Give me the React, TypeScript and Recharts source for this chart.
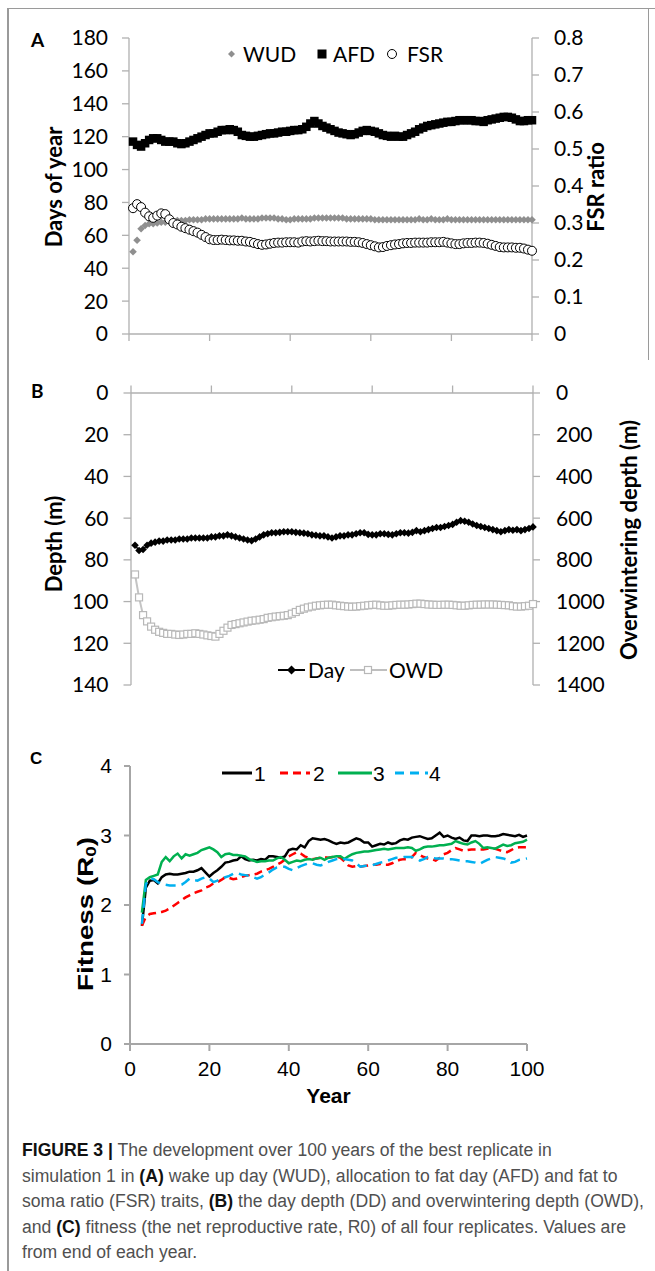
import React from 'react';
import { ComposedChart, Line, XAxis, YAxis, Legend } from 'recharts';

// ---------- Panel A data (years 1..100) ----------
const YEARS_AB = Array.from({ length: 100 }, (_, i) => i + 1);
const WUD = [50, 57, 64, 66, 67, 67, 67.5, 68, 68, 68.5,
  68.5, 69, 69, 69, 69.5, 69.5, 69.5, 69.5, 70, 70,
  70, 70, 70, 70, 70, 70, 70, 70.5, 70, 70,
  70, 70, 70.5, 70.5, 70.5, 70.5, 70, 70, 69.5, 69.5,
  70, 70, 70, 70, 70, 70.5, 70.5, 70.5, 70.5, 70.5,
  70.5, 70.5, 70.5, 70, 70, 70, 70, 70, 70, 70,
  69.5, 69.5, 69.5, 69.5, 69.5, 69.5, 69.5, 69.5, 69.5, 69.5,
  69.5, 70, 69.5, 69.5, 70, 69.5, 69.5, 69.5, 70, 69.5,
  69.5, 69.5, 69.5, 69.5, 69.5, 69.5, 69.5, 69.5, 69.5, 69.5,
  69.5, 69.5, 69.5, 69.5, 69.5, 69.5, 69.5, 69.5, 69.5, 69.5];
const AFD = [117, 115, 114, 116, 118, 119, 119, 118, 117, 117,
  117, 116, 115.5, 116, 117, 118, 119, 120, 121, 122,
  122, 123, 124, 124, 124.5, 124, 123, 121, 120.5, 120,
  120, 120.5, 121, 121.5, 122, 122, 122.5, 123, 123, 123.5,
  124, 124, 124.5, 126, 128, 129.5, 128, 126.5, 125.5, 124.5,
  123.5, 122.5, 122, 121.5, 121, 121.5, 122.5, 123.5, 124, 123.5,
  123, 122, 121, 120.5, 120, 120.5, 120, 120, 121, 122,
  123, 124.5, 125.5, 126.5, 127, 127.5, 128, 128.5, 129, 129,
  129.5, 130, 130, 130, 130, 129.5, 129.5, 129, 130, 130.5,
  131, 131.5, 132, 132, 131.5, 130.5, 129.5, 129.5, 130, 130];
const FSR = [0.340, 0.351, 0.343, 0.328, 0.318, 0.314, 0.320, 0.326, 0.324, 0.310,
  0.300, 0.296, 0.290, 0.286, 0.282, 0.278, 0.274, 0.268, 0.262, 0.256,
  0.254, 0.254, 0.255, 0.254, 0.253, 0.253, 0.252, 0.252, 0.250, 0.249,
  0.246, 0.243, 0.241, 0.242, 0.244, 0.246, 0.247, 0.247, 0.248, 0.248,
  0.248, 0.247, 0.250, 0.251, 0.250, 0.251, 0.252, 0.251, 0.251, 0.250,
  0.250, 0.250, 0.250, 0.250, 0.249, 0.249, 0.248, 0.246, 0.243, 0.240,
  0.237, 0.234, 0.235, 0.238, 0.240, 0.242, 0.243, 0.245, 0.246, 0.246,
  0.247, 0.247, 0.247, 0.247, 0.248, 0.248, 0.248, 0.249, 0.247, 0.245,
  0.243, 0.243, 0.245, 0.246, 0.246, 0.247, 0.247, 0.246, 0.244, 0.241,
  0.238, 0.235, 0.234, 0.234, 0.234, 0.233, 0.233, 0.231, 0.228, 0.225];

// ---------- Panel B data (years 1..100) ----------
const DAY_DEPTH = [73, 75.5, 75, 73, 72, 71.5, 71, 71, 70.5, 70.5,
  70.5, 70, 70, 70, 69.5, 69.5, 69.5, 69.5, 69.5, 69,
  69, 68.5, 68.5, 68, 68.5, 69, 69.5, 70, 70.5, 70.8,
  70, 69, 68, 67.5, 67, 67, 66.8, 66.5, 66.5, 66.5,
  66.8, 67, 67.2, 67.5, 68, 68.2, 68.5, 68.5, 69, 69.5,
  69, 68.5, 68.5, 68, 68, 67.5, 67, 67, 67.8, 68,
  68, 67.5, 67.5, 67.8, 68, 67.5, 67, 67, 67.2, 66.8,
  66, 66.5, 66, 65.5, 65, 64.5, 64.5, 64, 63.5, 63,
  62, 61.2, 61.5, 62, 62.8, 63.5, 64, 64.5, 65, 65.5,
  66, 66.5, 66, 65.5, 65.8, 65.5, 66, 65.5, 65, 64.2];
const OWD = [870, 980, 1065, 1095, 1120, 1135, 1145, 1150, 1155, 1155,
  1158, 1160, 1158, 1155, 1155, 1152, 1155, 1158, 1162, 1165,
  1168, 1155, 1140, 1125, 1112, 1108, 1104, 1100, 1096, 1092,
  1090, 1087, 1084, 1078, 1075, 1072, 1070, 1068, 1065, 1058,
  1050, 1040, 1034, 1028, 1024, 1020, 1018, 1016, 1015, 1015,
  1018, 1020, 1022, 1024, 1025, 1024, 1022, 1020, 1018, 1016,
  1015, 1018, 1020, 1020, 1018, 1016, 1015, 1015, 1014, 1012,
  1010, 1010, 1012, 1014, 1015, 1016, 1016, 1015, 1015, 1016,
  1018, 1020, 1020, 1018, 1016, 1015, 1015, 1014, 1014, 1014,
  1015, 1016, 1017, 1018, 1022, 1024, 1024, 1022, 1020, 1012];

// ---------- Panel C data (years 3..100) ----------
const YEARS_C = Array.from({ length: 98 }, (_, i) => i + 3);
const REP1 = [1.70, 2.25, 2.35, 2.36, 2.31, 2.40, 2.44, 2.45,
  2.44, 2.44, 2.45, 2.46, 2.48, 2.48, 2.50, 2.53, 2.47, 2.41,
  2.46, 2.50, 2.55, 2.61, 2.62, 2.64, 2.65, 2.70, 2.66, 2.64,
  2.65, 2.64, 2.66, 2.65, 2.70, 2.70, 2.69, 2.68, 2.70, 2.79,
  2.81, 2.80, 2.86, 2.83, 2.92, 2.96, 2.95, 2.94, 2.95, 2.93,
  2.90, 2.88, 2.90, 2.89, 2.90, 2.93, 2.96, 2.94, 2.90, 2.90,
  2.84, 2.86, 2.88, 2.87, 2.90, 2.88, 2.89, 2.93, 2.95, 2.94,
  2.97, 2.98, 2.99, 2.97, 2.95, 2.96, 3.00, 3.04, 2.98, 3.00,
  2.97, 2.95, 2.97, 2.93, 2.92, 3.00, 3.00, 2.99, 3.00, 3.00,
  2.99, 2.99, 3.00, 3.02, 3.01, 3.00, 2.99, 3.01, 2.98, 3.00];
const REP2 = [1.70, 1.83, 1.87, 1.88, 1.89, 1.90, 1.92, 1.95,
  1.99, 2.03, 2.07, 2.11, 2.14, 2.17, 2.19, 2.21, 2.25, 2.27,
  2.31, 2.33, 2.36, 2.40, 2.39, 2.37, 2.38, 2.40, 2.42, 2.43,
  2.44, 2.45, 2.48, 2.50, 2.52, 2.55, 2.58, 2.61, 2.65, 2.70,
  2.73, 2.76, 2.74, 2.70, 2.68, 2.66, 2.67, 2.68, 2.69, 2.68,
  2.69, 2.70, 2.68, 2.63, 2.57, 2.55, 2.56, 2.55, 2.56, 2.57,
  2.58, 2.58, 2.59, 2.58, 2.58, 2.60, 2.63, 2.65, 2.66, 2.66,
  2.69, 2.75, 2.72, 2.69, 2.67, 2.66, 2.64, 2.68, 2.73, 2.75,
  2.79, 2.82, 2.80, 2.78, 2.79, 2.80, 2.80, 2.80, 2.80, 2.81,
  2.81, 2.81, 2.79, 2.77, 2.76, 2.79, 2.82, 2.83, 2.83, 2.83];
const REP3 = [1.89, 2.36, 2.40, 2.42, 2.44, 2.62, 2.69, 2.63,
  2.70, 2.74, 2.67, 2.73, 2.71, 2.73, 2.75, 2.79, 2.81, 2.83,
  2.80, 2.76, 2.69, 2.73, 2.74, 2.72, 2.72, 2.71, 2.70, 2.66,
  2.64, 2.62, 2.63, 2.63, 2.64, 2.64, 2.67, 2.69, 2.65, 2.60,
  2.62, 2.64, 2.63, 2.65, 2.66, 2.65, 2.67, 2.68, 2.65, 2.68,
  2.69, 2.70, 2.70, 2.66, 2.70, 2.73, 2.75, 2.76, 2.77, 2.77,
  2.78, 2.79, 2.80, 2.81, 2.80, 2.81, 2.82, 2.82, 2.82, 2.83,
  2.82, 2.78, 2.80, 2.83, 2.84, 2.84, 2.85, 2.86, 2.86, 2.87,
  2.88, 2.92, 2.90, 2.88, 2.87, 2.90, 2.92, 2.88, 2.82, 2.83,
  2.82, 2.81, 2.84, 2.87, 2.85, 2.86, 2.89, 2.90, 2.91, 2.94];
const REP4 = [1.73, 2.30, 2.38, 2.37, 2.33, 2.30, 2.29, 2.28,
  2.28, 2.28, 2.29, 2.33, 2.38, 2.36, 2.35, 2.38, 2.40, 2.38,
  2.33, 2.35, 2.38, 2.40, 2.42, 2.45, 2.46, 2.44, 2.43, 2.42,
  2.40, 2.38, 2.40, 2.44, 2.47, 2.51, 2.54, 2.55, 2.55, 2.52,
  2.50, 2.53, 2.56, 2.58, 2.60, 2.60, 2.58, 2.57, 2.59, 2.62,
  2.64, 2.66, 2.67, 2.66, 2.65, 2.64, 2.60, 2.55, 2.56, 2.57,
  2.57, 2.59, 2.61, 2.62, 2.64, 2.66, 2.68, 2.68, 2.69, 2.69,
  2.69, 2.67, 2.64, 2.66, 2.69, 2.68, 2.67, 2.67, 2.67, 2.66,
  2.66, 2.65, 2.64, 2.63, 2.63, 2.62, 2.61, 2.59, 2.62, 2.65,
  2.67, 2.69, 2.68, 2.67, 2.65, 2.61, 2.62, 2.65, 2.66, 2.67];

// ---------- Axis ticks ----------
const X_TICKS = [0, 20, 40, 60, 80, 100];
const DAYS_TICKS = [0, 20, 40, 60, 80, 100, 120, 140, 160, 180];
const FSR_TICKS = [0, 0.1, 0.2, 0.3, 0.4, 0.5, 0.6, 0.7, 0.8];
const DEPTH_TICKS = [0, 20, 40, 60, 80, 100, 120, 140];
const OWD_TICKS = [0, 200, 400, 600, 800, 1000, 1200, 1400];
const FIT_TICKS = [0, 1, 2, 3, 4];

const dataA = YEARS_AB.map((year, i) => ({ year, wud: WUD[i], afd: AFD[i], fsr: FSR[i] }));
const dataB = YEARS_AB.map((year, i) => ({ year, day: DAY_DEPTH[i], owd: OWD[i] }));
const dataC = YEARS_C.map((year, i) => ({ year, r1: REP1[i], r2: REP2[i], r3: REP3[i], r4: REP4[i] }));

// ---------- styles ----------
const CAL = 'Lato, "Open Sans", sans-serif';
const ARIAL = '"Liberation Sans", Arial, sans-serif';
const AXIS_AB = { stroke: '#b0b0b0', strokeWidth: 1.3 };
const AXIS_C = { stroke: '#a6a6a6', strokeWidth: 2 };
const TICK_AB = { fontFamily: CAL, fontSize: 21, fill: '#000' };
const TICK_C = { fontFamily: ARIAL, fontSize: 21, fill: '#000' };
const TITLE_AB: React.CSSProperties = { fontFamily: CAL, fontSize: 22, fontWeight: 700, fill: '#000' };

// ---------- marker renderers ----------
const diamondDot = (fill: string, h: number) => (p: any) => {
  if (p.cx == null || p.cy == null) return <g key={`e${p.index}`} />;
  const { cx, cy } = p;
  return <path key={`d${p.index}`} d={`M${cx},${cy - h}L${cx + h},${cy}L${cx},${cy + h}L${cx - h},${cy}Z`} fill={fill} />;
};
const squareDot = (fill: string, stroke: string, s: number, sw: number) => (p: any) => {
  if (p.cx == null || p.cy == null) return <g key={`e${p.index}`} />;
  return <rect key={`s${p.index}`} x={p.cx - s / 2} y={p.cy - s / 2} width={s} height={s} fill={fill} stroke={stroke} strokeWidth={sw} />;
};
const circleDot = (p: any) => {
  if (p.cx == null || p.cy == null) return <g key={`e${p.index}`} />;
  return <circle key={`c${p.index}`} cx={p.cx} cy={p.cy} r={4.5} fill="#fff" stroke="#000" strokeWidth={1} />;
};

const rotTitle = (text: React.ReactNode, x: number, y: number, style: React.CSSProperties, extra: any = {}) => () => (
  <text x={x} y={y} transform={`rotate(-90 ${x} ${y})`} textAnchor="middle" dominantBaseline="central" style={style} {...extra}>{text}</text>
);

const fmtFsr = (v: number) => (v === 0 ? '0' : v.toFixed(1));
const empty = () => '';

// ---------- legends ----------
const LEG_AB: React.CSSProperties = { fontFamily: CAL, fontSize: 21, fill: '#000' };
const LEG_C: React.CSSProperties = { fontFamily: ARIAL, fontSize: 21, fill: '#000' };

const LegendA = () => (
  <svg width={655} height={30} style={{ display: 'block' }}>
    <path d="M231.5,11.5L235,15L231.5,18.5L228,15Z" fill="#8f8f8f" />
    <text x={243} y={22.5} style={LEG_AB}>WUD</text>
    <rect x={317.5} y={10.5} width={9} height={9} fill="#000" />
    <text x={333} y={22.5} style={LEG_AB}>AFD</text>
    <circle cx={392} cy={15} r={4.5} fill="#fff" stroke="#000" strokeWidth={1} />
    <text x={407} y={22.5} style={LEG_AB}>FSR</text>
  </svg>
);
const LegendB = () => (
  <svg width={655} height={30} style={{ display: 'block' }}>
    <line x1={278} y1={15} x2={305} y2={15} stroke="#000" strokeWidth={2} />
    <path d="M291.5,10.5L296,15L291.5,19.5L287,15Z" fill="#000" />
    <text x={308} y={22.5} style={LEG_AB}>Day</text>
    <line x1={350} y1={15} x2={387} y2={15} stroke="#bfbfbf" strokeWidth={2} />
    <rect x={364.5} y={11.5} width={7} height={7} fill="#fff" stroke="#b8b8b8" strokeWidth={1.2} />
    <text x={389} y={22.5} style={LEG_AB}>OWD</text>
  </svg>
);
const LegendC = () => (
  <svg width={655} height={30} style={{ display: 'block' }}>
    <line x1={222} y1={15} x2={252} y2={15} stroke="#000" strokeWidth={3} />
    <text x={254} y={22.5} style={LEG_C}>1</text>
    <line x1={280} y1={15} x2={310} y2={15} stroke="#ff0000" strokeWidth={3} strokeDasharray="8 5" />
    <text x={313} y={22.5} style={LEG_C}>2</text>
    <line x1={338} y1={15} x2={372} y2={15} stroke="#00b050" strokeWidth={3} />
    <text x={373} y={22.5} style={LEG_C}>3</text>
    <line x1={395} y1={15} x2={428} y2={15} stroke="#00b0f0" strokeWidth={3} strokeDasharray="9 6" />
    <text x={429} y={22.5} style={LEG_C}>4</text>
  </svg>
);

const abs = (left: number, top: number): React.CSSProperties => ({ position: 'absolute', left, top });

const CAPTION_LINES: React.ReactNode[] = [
  <><b style={{ color: '#111' }}>FIGURE 3 |</b> The development over 100 years of the best replicate in</>,
  <>simulation 1 in <b style={{ color: '#111' }}>(A)</b> wake up day (WUD), allocation to fat day (AFD) and fat to</>,
  <>soma ratio (FSR) traits, <b style={{ color: '#111' }}>(B)</b> the day depth (DD) and overwintering depth (OWD),</>,
  <>and <b style={{ color: '#111' }}>(C)</b> fitness (the net reproductive rate, R0) of all four replicates. Values are</>,
  <>from end of each year.</>,
];

export default function App() {
  return (
    <div style={{ position: 'absolute', left: 0, top: 0, width: 655, height: 1271, background: '#fff', overflow: 'hidden' }}>
      {/* frame */}
      <div style={{ ...abs(7, 8), width: 648, height: 1, background: '#9a9a9a' }} />
      <div style={{ ...abs(7, 8), width: 1.5, height: 1263, background: '#9a9a9a' }} />
      <div style={{ ...abs(648, 8), width: 1, height: 352, background: '#9a9a9a' }} />

      {/* Panel A */}
      <div style={abs(0, 0)}>
        <ComposedChart width={655} height={360} data={dataA} margin={{ top: 38, right: 0, bottom: 0, left: 0 }}>
          <XAxis dataKey="year" type="number" domain={[0, 100]} ticks={X_TICKS} height={26}
            axisLine={AXIS_AB} tickLine={AXIS_AB} tickSize={7} tickFormatter={empty} />
          <YAxis yAxisId="left" domain={[0, 180]} ticks={DAYS_TICKS} width={129} interval={0}
            axisLine={AXIS_AB} tickLine={AXIS_AB} tickSize={7} tickMargin={14} tick={TICK_AB}
            label={rotTitle('Days of year', 53, 187, TITLE_AB)} />
          <YAxis yAxisId="right" orientation="right" domain={[0, 0.8]} ticks={FSR_TICKS} width={123} interval={0}
            axisLine={AXIS_AB} tickLine={AXIS_AB} tickSize={7} tickMargin={15} tick={TICK_AB} tickFormatter={fmtFsr}
            label={rotTitle('FSR ratio', 595, 187, TITLE_AB)} />
          <Legend layout="horizontal" verticalAlign="middle" align="center" content={LegendA}
            wrapperStyle={{ left: 0, top: 39, width: 655, height: 30, margin: 0 }} />
          <Line yAxisId="left" dataKey="wud" stroke="none" dot={diamondDot('#8f8f8f', 3.8)} activeDot={false} isAnimationActive={false} />
          <Line yAxisId="left" dataKey="afd" stroke="none" dot={squareDot('#000', '#000', 8.5, 0)} activeDot={false} isAnimationActive={false} />
          <Line yAxisId="right" dataKey="fsr" stroke="none" dot={circleDot} activeDot={false} isAnimationActive={false} />
        </ComposedChart>
      </div>

      {/* Panel B */}
      <div style={abs(0, 360)}>
        <ComposedChart width={655} height={340} data={dataB} margin={{ top: 0, right: 0, bottom: 15, left: 0 }}>
          <XAxis dataKey="year" type="number" orientation="top" domain={[0, 100]} ticks={X_TICKS} height={33}
            axisLine={AXIS_AB} tickLine={AXIS_AB} tickSize={7.5} tickFormatter={empty} />
          <YAxis yAxisId="left" reversed domain={[0, 140]} ticks={DEPTH_TICKS} width={131} interval={0}
            axisLine={AXIS_AB} tickLine={AXIS_AB} tickSize={7.5} tickMargin={15} tick={TICK_AB}
            label={rotTitle('Depth (m)', 53, 184, TITLE_AB)} />
          <YAxis yAxisId="right" orientation="right" reversed domain={[0, 1400]} ticks={OWD_TICKS} width={122} interval={0}
            axisLine={AXIS_AB} tickLine={AXIS_AB} tickSize={7} tickMargin={16} tick={TICK_AB}
            label={rotTitle('Overwintering depth (m)', 628, 180, TITLE_AB)} />
          <Legend layout="horizontal" verticalAlign="middle" align="center" content={LegendB}
            wrapperStyle={{ left: 0, top: 295, width: 655, height: 30, margin: 0 }} />
          <Line yAxisId="right" dataKey="owd" stroke="#c4c4c4" strokeWidth={2} dot={squareDot('#fff', '#b8b8b8', 7, 1.2)} activeDot={false} isAnimationActive={false} />
          <Line yAxisId="left" dataKey="day" stroke="#000" strokeWidth={1.5} dot={diamondDot('#000', 3.8)} activeDot={false} isAnimationActive={false} />
        </ComposedChart>
      </div>

      {/* Panel C */}
      <div style={abs(0, 720)}>
        <ComposedChart width={655} height={400} data={dataC} margin={{ top: 46, right: 128, bottom: 0, left: 0 }}>
          <XAxis dataKey="year" type="number" domain={[0, 100]} ticks={X_TICKS} height={76} interval={0}
            axisLine={AXIS_C} tickLine={AXIS_C} tickSize={7} tickMargin={10} tick={TICK_C}
            label={() => (
              <text x={328.5} y={375} textAnchor="middle" dominantBaseline="central"
                style={{ fontFamily: ARIAL, fontSize: 21, fontWeight: 700, fill: '#000' }}>Year</text>
            )} />
          <YAxis domain={[0, 4]} ticks={FIT_TICKS} width={130} interval={0}
            axisLine={AXIS_C} tickLine={AXIS_C} tickSize={6} tickMargin={12} tick={TICK_C}
            label={rotTitle(<>Fitness (R<tspan dy={5} fontSize={15}>0</tspan><tspan dy={-5}>)</tspan></>, 85, 194,
              { fontFamily: ARIAL, fontSize: 22, fontWeight: 700, fill: '#000' },
              { textLength: 154, lengthAdjust: 'spacingAndGlyphs' })} />
          <Legend layout="horizontal" verticalAlign="middle" align="center" content={LegendC}
            wrapperStyle={{ left: 0, top: 38, width: 655, height: 30, margin: 0 }} />
          <Line dataKey="r1" stroke="#000" strokeWidth={2.5} dot={false} activeDot={false} isAnimationActive={false} />
          <Line dataKey="r2" stroke="#ff0000" strokeWidth={2.5} strokeDasharray="8 5" dot={false} activeDot={false} isAnimationActive={false} />
          <Line dataKey="r3" stroke="#00b050" strokeWidth={2.5} dot={false} activeDot={false} isAnimationActive={false} />
          <Line dataKey="r4" stroke="#00b0f0" strokeWidth={2.5} strokeDasharray="10 6" dot={false} activeDot={false} isAnimationActive={false} />
        </ComposedChart>
      </div>

      {/* Panel letters */}
      <div style={{ ...abs(31, 29), fontFamily: CAL, fontWeight: 700, fontSize: 19, lineHeight: '22px' }}>A</div>
      <div style={{ ...abs(31, 380), fontFamily: CAL, fontWeight: 700, fontSize: 19, lineHeight: '22px' }}>B</div>
      <div style={{ ...abs(30, 748), fontFamily: ARIAL, fontWeight: 700, fontSize: 17, lineHeight: '22px' }}>C</div>

      {/* Caption */}
      <div style={{ ...abs(22, 1138), fontFamily: ARIAL, fontSize: 17.6, lineHeight: '25.6px', color: '#505050', whiteSpace: 'nowrap' }}>
        {CAPTION_LINES.map((l, i) => <div key={i}>{l}</div>)}
      </div>
    </div>
  );
}
